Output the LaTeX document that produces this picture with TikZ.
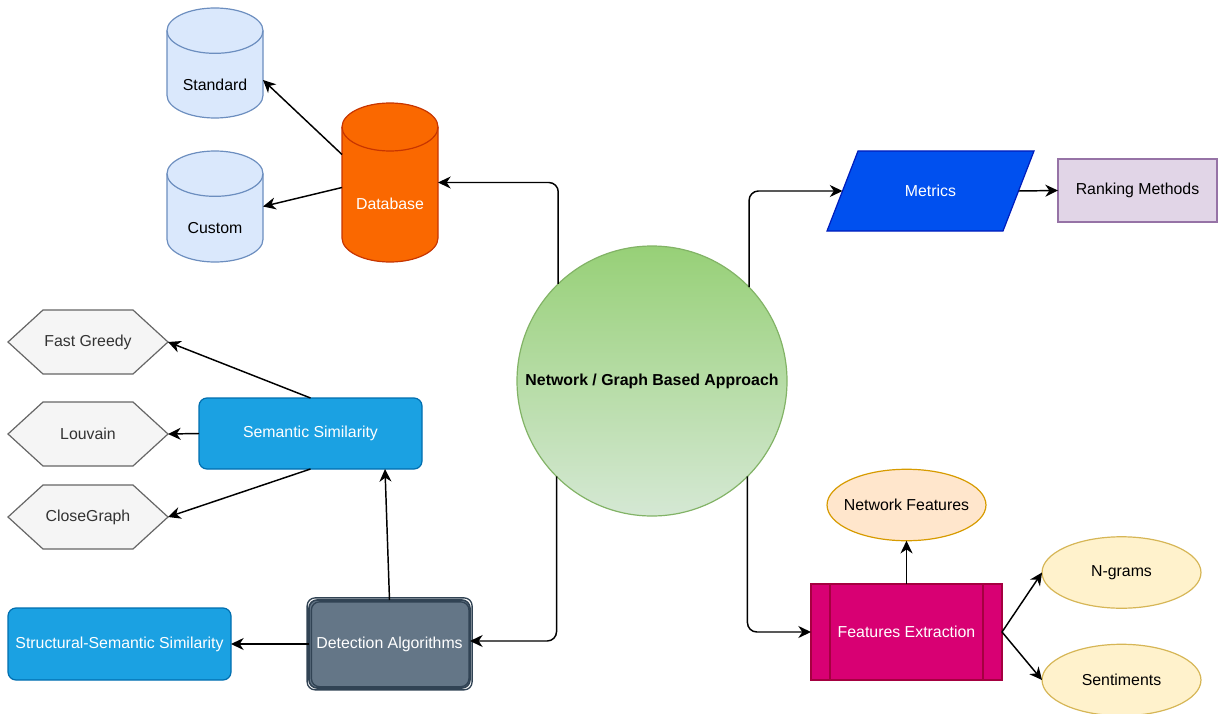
\documentclass[tikz,border=0pt]{standalone}
\usepackage{fontspec}
\setmainfont{Liberation Sans}
\usetikzlibrary{arrows.meta,calc,shapes.geometric,backgrounds}

\definecolor{dbfill}{HTML}{FA6800}\definecolor{dbline}{HTML}{C73500}
\definecolor{bluefill}{HTML}{DAE8FC}\definecolor{blueline}{HTML}{6C8EBF}
\definecolor{grayfill}{HTML}{F5F5F5}\definecolor{grayline}{HTML}{666666}\definecolor{graytext}{HTML}{333333}
\definecolor{semfill}{HTML}{1BA1E2}\definecolor{semline}{HTML}{006EAF}
\definecolor{detfill}{HTML}{647687}\definecolor{detline}{HTML}{314354}
\definecolor{greentop}{HTML}{97D077}\definecolor{greenbot}{HTML}{D5E8D4}\definecolor{greenline}{HTML}{82B366}
\definecolor{metfill}{HTML}{0050EF}\definecolor{metline}{HTML}{001DBC}
\definecolor{rankfill}{HTML}{E1D5E7}\definecolor{rankline}{HTML}{9673A6}
\definecolor{fefill}{HTML}{D80073}\definecolor{feline}{HTML}{A50040}
\definecolor{nffill}{HTML}{FFE6CC}\definecolor{nfline}{HTML}{D79B00}
\definecolor{ngfill}{HTML}{FFF2CC}\definecolor{ngline}{HTML}{D6B656}

% cylinder outline around a rectangular holder node: #1 node, #2 cap half-height, #3 style
\newcommand\drawdrum[3]{%
  \draw[#3] ($(#1.north west)+(0,-#2)$) -- ($(#1.south west)+(0,#2)$)
    arc[start angle=180,end angle=360,x radius=36pt,y radius=#2]
    -- ($(#1.north east)+(0,-#2)$)
    arc[start angle=0,end angle=180,x radius=36pt,y radius=#2] -- cycle;
  \draw[#3,fill=none] ($(#1.north west)+(0,-#2)$)
    arc[start angle=180,end angle=360,x radius=36pt,y radius=#2];
}
% pointed hexagon around a rectangular holder node
\newcommand\drawhex[1]{%
  \draw[hexline] (#1.west) -- ($(#1.north west)+(26.25pt,0)$) -- ($(#1.north east)+(-26.25pt,0)$)
    -- (#1.east) -- ($(#1.south east)+(-26.25pt,0)$) -- ($(#1.south west)+(26.25pt,0)$) -- cycle;
}
% ellipse inscribed in a rectangular holder node: #1 node, #2 fill, #3 line
\newcommand\drawoval[3]{%
  \draw[fill=#2, draw=#3, line width=0.9pt] (#1.center) ellipse [x radius=59.6pt, y radius=26.8pt];
}

\begin{document}
\begin{tikzpicture}[x=0.75pt,y=0.75pt,
  every node/.style={font=\fontsize{11.9}{14}\selectfont, inner sep=0pt, outer sep=0pt},
  holder/.style 2 args={rectangle, minimum width=#1, minimum height=#2},
  drumblue/.style={fill=bluefill, draw=blueline, line width=0.9pt},
  drumorange/.style={fill=dbfill, draw=dbline, line width=0.9pt},
  hexline/.style={fill=grayfill, draw=grayline, line width=0.9pt},
  hextext/.style={holder={120pt}{48pt}, text=graytext},
  bluebox/.style 2 args={holder={#1}{#2}, fill=semfill, draw=semline, line width=0.9pt, rounded corners=6pt, text=white},
  ovaltext/.style={holder={119.2pt}{53.6pt}},
  sketch/.style={draw=detline, line width=1pt, rounded corners=6pt},
  link/.style={draw=black, line width=1.1pt, -{Stealth[length=9.5pt,width=9pt,inset=3pt]}},
  elbow/.style={link, rounded corners=7pt}]

\useasboundingbox (0,0) rectangle (1219,-713);

% ---- databases ----
\node[holder={72pt}{82.5pt}] (std) at (215,-63) {};
\node[holder={72pt}{83.25pt}] (cus) at (215,-206.5) {};
\node[holder={72pt}{119.25pt}] (db) at (390,-182.5) {};
\node (stdT) at (215,-85) {Standard};
\node (cusT) at (215,-228) {Custom};
\node[text=white] (dbT) at (390,-204) {Database};

% ---- community detection algorithms ----
\node[hextext] (fg) at (88,-342) {Fast Greedy};
\node[hextext] (lv) at (88,-434) {Louvain};
\node[hextext] (cg) at (88,-517) {CloseGraph};
\node[bluebox={167.25pt}{53.25pt}] (sem) at (310.5,-433.5) {Semantic Similarity};
\node[bluebox={167.25pt}{54pt}] (sss) at (119.5,-644) {Structural-Semantic Similarity};
\node[holder={120.75pt}{66pt}, fill=detfill, draw=detline, line width=1.2pt, rounded corners=6pt, text=white]
  (det) at (389.5,-644) {Detection Algorithms};
\draw[sketch] ([shift={(-1.4pt,1.6pt)}]det.north west) rectangle ([shift={(1.6pt,-1.4pt)}]det.south east);
\draw[sketch] ([shift={(1.8pt,-1.4pt)}]det.north west) rectangle ([shift={(-0.8pt,1pt)}]det.south east);

% ---- central approach ----
\node[circle, minimum size=202.5pt, top color=greentop, bottom color=greenbot, draw=greenline, line width=0.9pt,
  font=\fontsize{11.9}{14}\selectfont\bfseries] (circ) at (652,-381) {Network / Graph Based Approach};

% ---- metrics ----
\node[holder={155.25pt}{60pt}, text=white] (met) at (930.5,-191) {Metrics};
\coordinate (metW) at ($(met.west)+(15.5,0)$);
\coordinate (metE) at ($(met.east)+(-15.5,0)$);
\node[holder={119.25pt}{47.25pt}, fill=rankfill, draw=rankline, line width=0.9pt] (rank) at (1137.5,-190.5) {Ranking Methods};

% ---- features ----
\node[holder={143.25pt}{72pt}, fill=fefill, draw=feline, line width=0.9pt, text=white] (fe) at (906.5,-632) {Features Extraction};
\draw[feline, line width=0.9pt] ($(fe.north west)+(14.25pt,0)$) -- ($(fe.south west)+(14.25pt,0)$);
\draw[feline, line width=0.9pt] ($(fe.north east)+(-14.25pt,0)$) -- ($(fe.south east)+(-14.25pt,0)$);
\node[ovaltext] (nf) at (906.5,-505) {Network Features};
\node[ovaltext] (ng) at (1121.5,-572.5) {N-grams};
\node[ovaltext] (sen) at (1121.5,-680) {Sentiments};

% ---- outlines behind the labels ----
\begin{scope}[on background layer]
  \drawdrum{std}{17pt}{drumblue}
  \drawdrum{cus}{17pt}{drumblue}
  \drawdrum{db}{18pt}{drumorange}
  \drawhex{fg}
  \drawhex{lv}
  \drawhex{cg}
  \draw[fill=metfill, draw=metline, line width=0.9pt] (met.south west) -- ($(met.north west)+(23.25pt,0)$)
    -- (met.north east) -- ($(met.south east)+(-23.25pt,0)$) -- cycle;
  \drawoval{nf}{nffill}{nfline}
  \drawoval{ng}{ngfill}{ngline}
  \drawoval{sen}{ngfill}{ngline}
\end{scope}

% ---- connectors ----
\draw[link] ($(db.west)+(0,28)$) -- ($(std.east)+(0,-17)$);
\draw[link] ($(db.west)+(0,-5)$) -- (cus.east);
\draw[elbow] (circ.134.7) |- (db.east);
\draw[elbow] (circ.225.3) |- ($(det.east)+(0,3)$);
\draw[elbow] (circ.44.7) |- (metW);
\draw[elbow] (circ.315.3) |- (fe.west);
\draw[link] (metE) -- (rank.west);
\draw[link] (sem.north) -- (fg.east);
\draw[link] (sem.west) -- (lv.east);
\draw[link] (sem.south) -- (cg.east);
\draw[link] (det.north) -- ($(sem.south)+(74.5,0)$);
\draw[link] (det.west) -- (sss.east);
\draw[link] (fe.north) -- (nf.south);
\draw[link] (fe.east) -- (ng.west);
\draw[link] (fe.east) -- (sen.west);
\end{tikzpicture}
\end{document}
